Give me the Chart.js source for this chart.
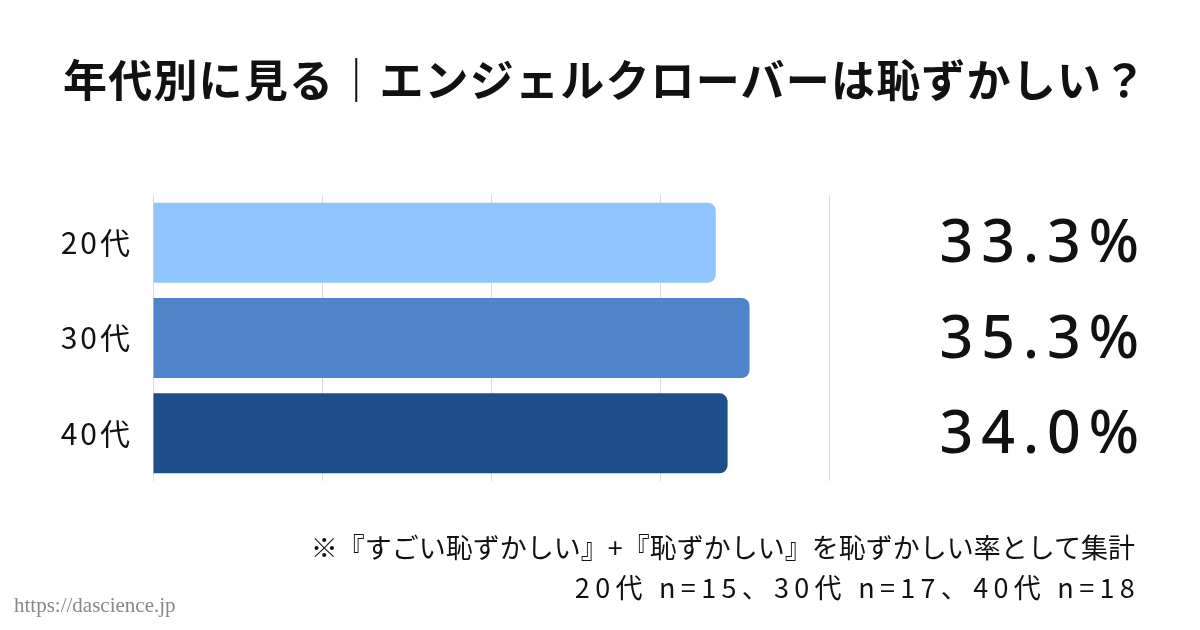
<!DOCTYPE html>
<html>
<head>
<meta charset="utf-8">
<script src="https://cdn.jsdelivr.net/npm/chart.js@4"></script>
<style>
  html, body { margin: 0; padding: 0; background: #fff; }
  #wrap { position: relative; width: 1200px; height: 630px; overflow: hidden; font-family: "Noto Sans CJK JP", "Noto Sans", sans-serif; }
  #title { position: absolute; left: 63px; top: 46px; font-size: 44px; font-weight: 600; letter-spacing: 1.2px; color: #111; white-space: nowrap; }
  .note { position: absolute; color: #111; white-space: nowrap; }
  #note1 { top: 527px; right: 65px; font-size: 27px; }
  #note2 { top: 567px; right: 60px; font-size: 27px; letter-spacing: 5.3px; }
  #site { position: absolute; left: 14px; top: 593px; font-family: "Liberation Serif", "DejaVu Serif", serif; font-size: 21px; color: #888; }
  canvas { position: absolute; left: 0; top: 0; }
</style>
</head>
<body>
<div id="wrap">
  <canvas id="chartContainer" width="1200" height="630"></canvas>
  <div id="title">年代別に見る｜エンジェルクローバーは恥ずかしい？</div>
  <div class="note" id="note1">※『すごい恥ずかしい』+『恥ずかしい』を恥ずかしい率として集計</div>
  <div class="note" id="note2">20代 n=15、30代 n=17、40代 n=18</div>
  <div id="site">https://dascience.jp</div>
</div>
<script>
var ageLabels = ['20代', '30代', '40代'];
var shameRate = [33.3, 35.3, 34.0];
var barColors = ['#90c4fc', '#4f83ca', '#1f4e8c'];

// spaced-out letters for the age labels
var spacing = {
	id: 'spacing',
	beforeDraw: function (chart) {
		chart.ctx.letterSpacing = '3px';
	}
};

// big percent text on the right side
var valueText = {
	id: 'valueText',
	afterDatasetsDraw: function (chart) {
		var ctx = chart.ctx;
		var meta = chart.getDatasetMeta(0);
		ctx.save();
		ctx.font = '500 59px "Noto Sans", "Noto Sans CJK JP", sans-serif';
		ctx.fillStyle = '#111';
		ctx.textAlign = 'right';
		ctx.textBaseline = 'middle';
		ctx.letterSpacing = '8px';
		for (var i = 0; i < meta.data.length; i++) {
			ctx.fillText(shameRate[i].toFixed(1) + '%', 1147, meta.data[i].y + 3);
		}
		ctx.restore();
	}
};

var myChart = document.getElementById('chartContainer').getContext('2d');

var popChart = new Chart(myChart, {
	type: 'bar',
	data: {
		labels: ageLabels,
		datasets: [{
			data: shameRate,
			backgroundColor: barColors,
			borderRadius: 8,
			borderSkipped: 'start',
			categoryPercentage: 1,
			barPercentage: 0.84
		}]
	},
	options: {
		indexAxis: 'y',
		responsive: false,
		animation: false,
		layout: { padding: { top: 195, bottom: 149, left: 0, right: 371 } },
		plugins: {
			legend: { display: false },
			tooltip: { enabled: false }
		},
		scales: {
			x: {
				min: 0,
				max: 40,
				ticks: { display: false, stepSize: 10 },
				grid: { color: '#dcdcdc', drawTicks: false },
				border: { display: false }
			},
			y: {
				afterFit: function (scale) { scale.width = 153; },
				ticks: {
					padding: 20,
					color: '#111',
					font: { family: '"Noto Sans CJK JP", "Noto Sans", sans-serif', size: 30 }
				},
				grid: { display: false, drawTicks: false },
				border: { display: false }
			}
		}
	},
	plugins: [spacing, valueText]
});
</script>
</body>
</html>
